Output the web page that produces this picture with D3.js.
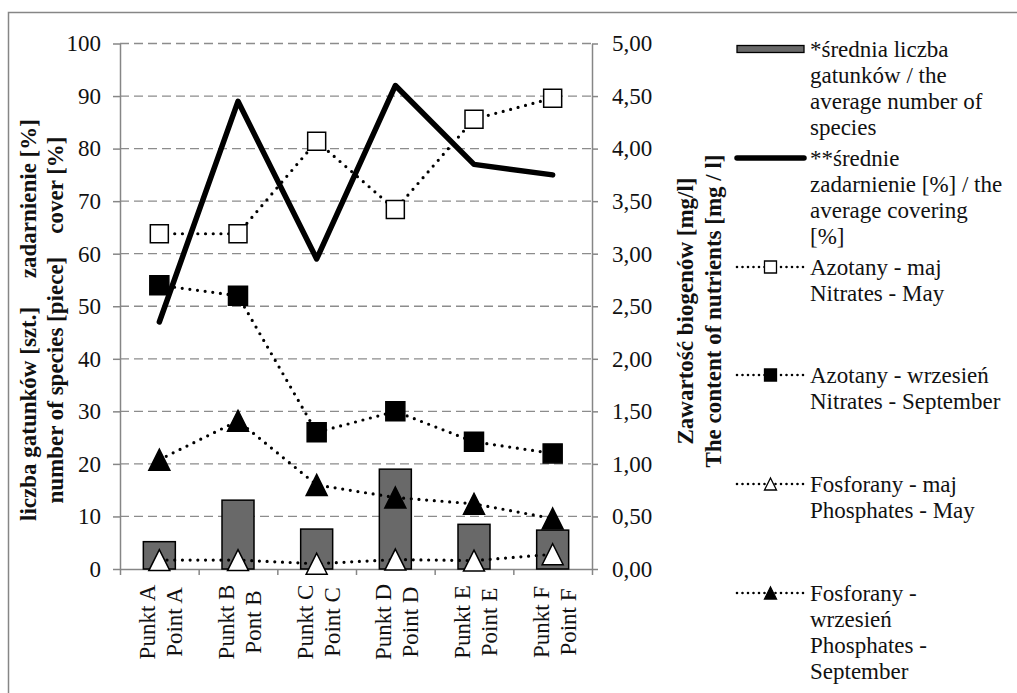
<!DOCTYPE html>
<html>
<head>
<meta charset="utf-8">
<script src="https://cdn.jsdelivr.net/npm/d3@7/dist/d3.min.js"></script>
<style>
  html, body { margin: 0; padding: 0; background: #fff; }
  svg text { font-family: "Liberation Serif", Tinos, "Times New Roman", serif; fill: #111; }
</style>
</head>
<body>
<div id="chart"></div>
<script>
// Categories and tick labels
const categories = ["A", "B", "C", "D", "E", "F"];
const punktLabels = ["Punkt A", "Punkt B", "Punkt C", "Punkt D", "Punkt E", "Punkt F"];
const pointLabels = ["Point A", "Pont B", "Point C", "Point D", "Point E", "Point F"];
const leftTicks = [0, 10, 20, 30, 40, 50, 60, 70, 80, 90, 100];
const rightTicks = [0, 0.5, 1, 1.5, 2, 2.5, 3, 3.5, 4, 4.5, 5];

// Series (left axis)
const speciesCount = [5.2, 13.1, 7.6, 19.0, 8.5, 7.4];
const coverPct = [47, 89, 59, 92, 77, 75];
// Series (right axis, mg/l)
const nitratesMay = [3.19, 3.19, 4.07, 3.42, 4.28, 4.48];
const nitratesSep = [2.70, 2.60, 1.30, 1.50, 1.21, 1.10];
const phosphatesMay = [0.085, 0.085, 0.05, 0.09, 0.08, 0.14];
const phosphatesSep = [1.04, 1.41, 0.80, 0.68, 0.62, 0.48];

const legendItems = [
  { kind: "bar", lines: ["*średnia liczba", "gatunków / the", "average number of", "species"] },
  { kind: "thick", lines: ["**średnie", "zadarnienie [%] / the", "average covering", "[%]"] },
  { kind: "dot", marker: "square", fill: "#fff", lines: ["Azotany - maj", "Nitrates - May"] },
  { kind: "dot", marker: "square", fill: "#000", lines: ["Azotany - wrzesień", "Nitrates - September"] },
  { kind: "dot", marker: "triangle", fill: "#fff", lines: ["Fosforany - maj", "Phosphates - May"] },
  { kind: "dot", marker: "triangle", fill: "#000", lines: ["Fosforany -", "wrzesień", "Phosphates -", "September"] }
];

const W = 1017, H = 693;
const plot = { left: 120, right: 592, top: 43.5, bottom: 569 };
const axisColor = "#868686";
const fontSize = 23;
const serif = "'Liberation Serif', Tinos, 'Times New Roman', serif";

const svg = d3.select("#chart").append("svg")
  .attr("width", W)
  .attr("height", H)
  .style("font-family", serif);

// outer frame (right/bottom edges fall outside the picture)
svg.append("rect")
  .attr("x", 8.5).attr("y", 12.5)
  .attr("width", W + 20).attr("height", H + 20)
  .attr("fill", "none")
  .attr("stroke", axisColor)
  .attr("stroke-width", 1.5);

const x = d3.scaleBand().domain(categories).range([plot.left, plot.right]);
const xEdges = d3.scaleLinear().domain([0, categories.length]).range([plot.left, plot.right]);
const yLeft = d3.scaleLinear().domain([0, 100]).range([plot.bottom, plot.top]);
const yRight = d3.scaleLinear().domain([0, 5]).range([plot.bottom, plot.top]);
const cx = (d, i) => x(categories[i]) + x.bandwidth() / 2;

// gridlines
svg.append("g")
  .selectAll("line")
  .data(leftTicks.filter(d => d > 0))
  .join("line")
  .attr("x1", plot.left).attr("x2", plot.right)
  .attr("y1", d => yLeft(d)).attr("y2", d => yLeft(d))
  .attr("stroke", "#8c8c8c")
  .attr("stroke-width", 1.3)
  .attr("stroke-dasharray", "9,5");

// axes
function styleAxis(g) {
  g.attr("font-family", null);
  g.selectAll(".domain").attr("stroke", axisColor).attr("stroke-width", 1.5);
  g.selectAll(".tick line").attr("stroke", axisColor).attr("stroke-width", 1.5);
  g.selectAll(".tick text").attr("font-size", fontSize).attr("fill", "#111")
    .style("font-family", serif);
}

svg.append("g")
  .attr("transform", `translate(${plot.left},0)`)
  .call(d3.axisLeft(yLeft).tickValues(leftTicks).tickSize(7).tickSizeOuter(0).tickPadding(12))
  .call(styleAxis);

svg.append("g")
  .attr("transform", `translate(${plot.right},0)`)
  .call(d3.axisRight(yRight).tickValues(rightTicks).tickSize(6).tickSizeOuter(0).tickPadding(14)
    .tickFormat(d => d3.format(".2f")(d).replace(".", ",")))
  .call(styleAxis);

svg.append("g")
  .attr("transform", `translate(0,${plot.bottom})`)
  .call(d3.axisBottom(xEdges).tickValues(d3.range(categories.length + 1)).tickSize(6).tickSizeOuter(0).tickFormat(""))
  .call(styleAxis);

// category labels (rotated, two lines)
const catLabels = svg.append("g").selectAll("g")
  .data(categories)
  .join("g")
  .attr("transform", (d, i) => `translate(${cx(d, i)},622) rotate(-90)`);
catLabels.append("text")
  .attr("text-anchor", "middle")
  .attr("y", -4)
  .attr("font-size", fontSize)
  .text((d, i) => punktLabels[i]);
catLabels.append("text")
  .attr("text-anchor", "middle")
  .attr("y", 23)
  .attr("font-size", fontSize)
  .text((d, i) => pointLabels[i]);

// axis titles
const leftTitle = svg.append("g").attr("transform", "translate(0,320)");
[["liczba gatunków [szt.]     zadarnienie [%]", 36], ["number of species [piece]    cover [%]", 63]].forEach(([t, bx]) => {
  leftTitle.append("text")
    .attr("transform", `translate(${bx},0) rotate(-90)`)
    .attr("text-anchor", "middle")
    .attr("font-size", fontSize)
    .attr("font-weight", "bold")
    .attr("xml:space", "preserve")
    .style("white-space", "pre")
    .text(t);
});
const rightTitle = svg.append("g").attr("transform", "translate(0,311)");
[["Zawartość biogenów [mg/l]", 693], ["The content of nutrients [mg / l]", 721]].forEach(([t, bx]) => {
  rightTitle.append("text")
    .attr("transform", `translate(${bx},0) rotate(-90)`)
    .attr("text-anchor", "middle")
    .attr("font-size", fontSize)
    .attr("font-weight", "bold")
    .text(t);
});

// bars
const barW = 32;
svg.append("g")
  .selectAll("rect")
  .data(speciesCount)
  .join("rect")
  .attr("x", (d, i) => cx(d, i) - barW / 2)
  .attr("y", d => yLeft(d))
  .attr("width", barW)
  .attr("height", d => yLeft(0) - yLeft(d))
  .attr("fill", "#696969")
  .attr("stroke", "#000")
  .attr("stroke-width", 1.5);

// thick cover line
svg.append("path")
  .datum(coverPct)
  .attr("d", d3.line().x(cx).y(d => yLeft(d)))
  .attr("fill", "none")
  .attr("stroke", "#000")
  .attr("stroke-width", 5.5)
  .attr("stroke-linejoin", "round")
  .attr("stroke-linecap", "round");

// marker paths
function markerPath(shape, s) {
  if (shape === "square") return `M${-s / 2},${-s / 2}h${s}v${s}h${-s}Z`;
  return `M0,${-s / 2}L${s / 2},${s / 2}L${-s / 2},${s / 2}Z`;
}

const dottedSeries = [
  { values: nitratesMay, marker: "square", fill: "#fff", size: 18 },
  { values: nitratesSep, marker: "square", fill: "#000", size: 19 },
  { values: phosphatesMay, marker: "triangle", fill: "#fff", size: 21 },
  { values: phosphatesSep, marker: "triangle", fill: "#000", size: 21 }
];

dottedSeries.forEach(s => {
  const g = svg.append("g");
  g.append("path")
    .datum(s.values)
    .attr("d", d3.line().x(cx).y(d => yRight(d)))
    .attr("fill", "none")
    .attr("stroke", "#000")
    .attr("stroke-width", 3.2)
    .attr("stroke-linecap", "round")
    .attr("stroke-dasharray", "0,7.7");
  g.selectAll(".mk")
    .data(s.values)
    .join("path")
    .attr("class", "mk")
    .attr("transform", (d, i) => `translate(${cx(d, i)},${yRight(d)})`)
    .attr("d", markerPath(s.marker, s.size))
    .attr("fill", s.fill)
    .attr("stroke", "#000")
    .attr("stroke-width", 1.5)
    .attr("stroke-linejoin", "miter");
});

// legend
const lgX0 = 737, lgX1 = 804, lgText = 810, lineH = 26;
const entryY = [49, 158, 267, 375, 484, 593];
const legend = svg.append("g");
legendItems.forEach((item, k) => {
  const y0 = entryY[k];
  if (item.kind === "bar") {
    legend.append("rect")
      .attr("x", lgX0).attr("y", y0 - 3.5)
      .attr("width", lgX1 - lgX0).attr("height", 7)
      .attr("fill", "#696969").attr("stroke", "#000").attr("stroke-width", 1.3);
  } else if (item.kind === "thick") {
    legend.append("line")
      .attr("x1", lgX0).attr("x2", lgX1).attr("y1", y0).attr("y2", y0)
      .attr("stroke", "#000").attr("stroke-width", 5.5).attr("stroke-linecap", "round");
  } else {
    legend.append("line")
      .attr("x1", lgX0).attr("x2", lgX1).attr("y1", y0).attr("y2", y0)
      .attr("stroke", "#000").attr("stroke-width", 2.6)
      .attr("stroke-linecap", "round").attr("stroke-dasharray", "0,5.5");
    legend.append("path")
      .attr("transform", `translate(${(lgX0 + lgX1) / 2},${y0})`)
      .attr("d", markerPath(item.marker, 12))
      .attr("fill", item.fill).attr("stroke", "#000").attr("stroke-width", 1.3);
  }
  item.lines.forEach((t, j) => {
    legend.append("text")
      .attr("x", lgText)
      .attr("y", y0 + j * lineH)
      .attr("dy", "0.35em")
      .attr("font-size", fontSize)
      .text(t);
  });
});
</script>
</body>
</html>
